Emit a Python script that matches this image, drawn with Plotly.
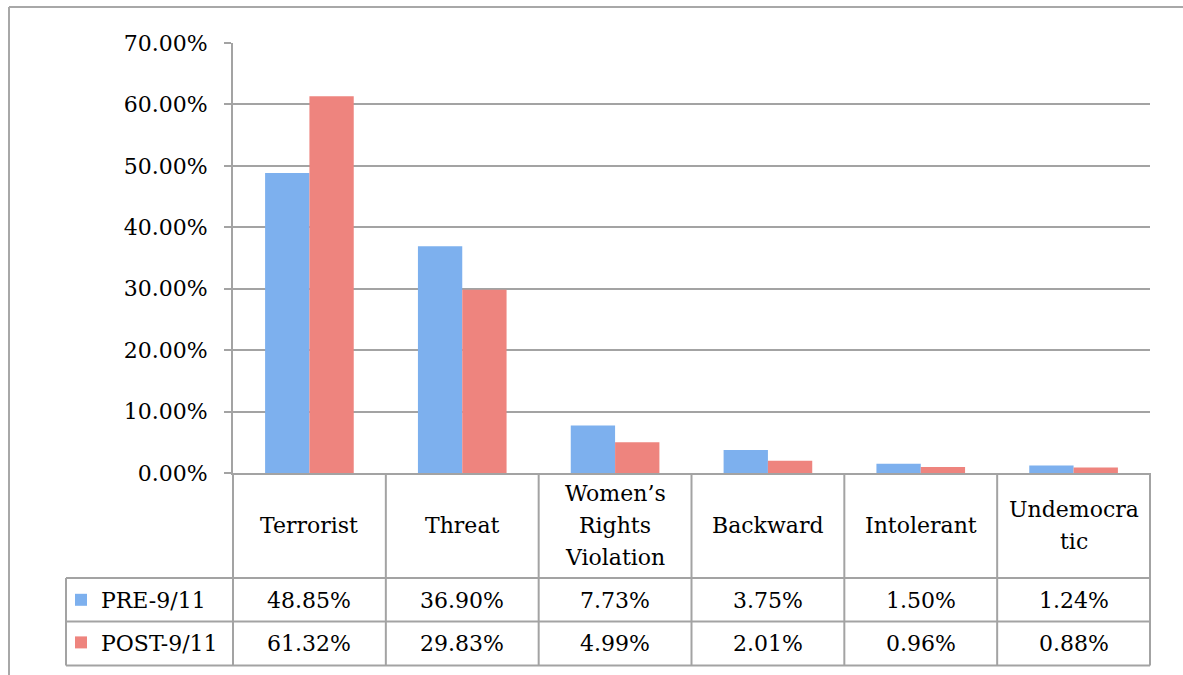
import plotly.graph_objects as go

categories = ["Terrorist", "Threat", "Women\u2019s Rights Violation", "Backward", "Intolerant", "Undemocratic"]
header_lines = [["Terrorist"], ["Threat"], ["Women\u2019s", "Rights", "Violation"], ["Backward"], ["Intolerant"], ["Undemocra", "tic"]]
pre_values = [48.85, 36.90, 7.73, 3.75, 1.50, 1.24]
post_values = [61.32, 29.83, 4.99, 2.01, 0.96, 0.88]
series_names = ["PRE-9/11", "POST-9/11"]
y_ticks = [0, 10, 20, 30, 40, 50, 60, 70]

W, H = 1183, 675
L, R, T, B = 233, 1150, 43, 473  # plot area in pixels
FONT = "DejaVu Serif"
FS = 22
GRID = "#A3A3A3"
BLUE = "#7DB0EE"
RED = "#EE847E"


def px(xp):
    return (xp - L) / (R - L)


def py(yp):
    return (B - yp) / (B - T)


fig = go.Figure()
fig.add_trace(go.Bar(name=series_names[0], x=categories, y=pre_values,
                     marker=dict(color=BLUE, line=dict(width=0)), legendgroup="a"))
fig.add_trace(go.Bar(name=series_names[1], x=categories, y=post_values,
                     marker=dict(color=RED, line=dict(width=0)), legendgroup="b"))

shapes = []


def line(x0, y0, x1, y1, color=GRID, width=2):
    shapes.append(dict(type="line", xref="paper", yref="paper",
                       x0=px(x0), y0=py(y0), x1=px(x1), y1=py(y1),
                       line=dict(color=color, width=width), layer="above"))


# outer frame (top and left)
line(9, 7, 1190, 7, color="#A8A8A8", width=2)
line(9, 7, 9, 680, color="#A8A8A8", width=2)

# data table grid
ROW1, ROW2, ROW3 = 578, 621.5, 665.5
col_w = (R - L) / len(categories)
for i in range(len(categories) + 1):
    xp = L + i * col_w
    line(xp, B, xp, ROW3)
line(66, ROW1, 66, ROW3)
for yp in (ROW1, ROW2, ROW3):
    line(66, yp, R, yp)

annotations = []
HEADER_C = 525.5
LINE_H = 32
for cat, lines in zip(categories, header_lines):
    n = len(lines)
    for k, txt in enumerate(lines):
        yc = HEADER_C + (k - (n - 1) / 2) * LINE_H
        annotations.append(dict(x=cat, xref="x", y=py(yc), yref="paper", text=txt,
                                showarrow=False, font=dict(family=FONT, size=FS, color="black"),
                                xanchor="center", yanchor="middle"))
for vals, yc in ((pre_values, 600), (post_values, 643.5)):
    for cat, v in zip(categories, vals):
        annotations.append(dict(x=cat, xref="x", y=py(yc), yref="paper", text=f"{v:.2f}%",
                                showarrow=False, font=dict(family=FONT, size=FS, color="black"),
                                xanchor="center", yanchor="middle"))

fig.update_layout(
    width=W, height=H,
    margin=dict(l=L, r=W - R, t=T, b=H - B, pad=0, autoexpand=False),
    paper_bgcolor="white", plot_bgcolor="white",
    barmode="group", bargap=0.42, bargroupgap=0,
    font=dict(family=FONT, size=FS, color="black"),
    xaxis=dict(showticklabels=False, ticks="", showgrid=False, showline=True,
               linecolor=GRID, linewidth=2, range=[-0.5, 5.5], fixedrange=True),
    yaxis=dict(range=[0, 70], tickvals=y_ticks, ticktext=[f"{t:.2f}%" for t in y_ticks],
               showgrid=True, gridcolor=GRID, gridwidth=2, showline=True, linecolor=GRID,
               linewidth=2, ticks="outside", ticklen=7, tickcolor=GRID, tickwidth=2,
               ticklabelstandoff=12, tickfont=dict(family=FONT, size=FS, color="black"),
               zeroline=False),
    showlegend=True,
    legend=dict(x=px(61), xanchor="left", y=py(ROW1 + 1), yanchor="top",
                orientation="v", tracegroupgap=11, bgcolor="rgba(0,0,0,0)",
                font=dict(family=FONT, size=FS, color="black"), itemclick=False),
    shapes=shapes,
    annotations=annotations,
)

fig.write_html("out.html")
